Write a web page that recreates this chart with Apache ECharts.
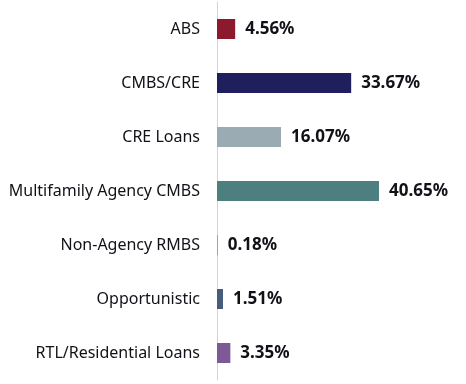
<!DOCTYPE html>
<html>
<head>
<meta charset="utf-8">
<script src="https://cdn.jsdelivr.net/npm/echarts@6/dist/echarts.min.js"></script>
<style>
html,body{margin:0;padding:0;background:#fff;}
#chart{width:466px;height:384px;}
</style>
</head>
<body>
<div id="chart"></div>
<script>
const categories = ["ABS", "CMBS/CRE", "CRE Loans", "Multifamily Agency CMBS", "Non-Agency RMBS", "Opportunistic", "RTL/Residential Loans"];
const values = [4.56, 33.67, 16.07, 40.65, 0.18, 1.51, 3.35];
const colors = ["#8c1a2c", "#1f1f5e", "#9aabb4", "#4e7f80", "#8a8f99", "#475d79", "#7d5a96"];

const chart = echarts.init(document.getElementById('chart'));
chart.setOption({
  animation: false,
  grid: { left: 217, top: 2, width: 199.25, height: 378 },
  xAxis: {
    type: 'value', min: 0, max: 50,
    show: false
  },
  yAxis: {
    type: 'category', data: categories, inverse: true,
    axisLine: { show: true, lineStyle: { color: '#d4d4d4', width: 1 } },
    axisTick: { show: false },
    axisLabel: { margin: 17, fontFamily: 'Noto Sans', fontSize: 16, color: '#111118' }
  },
  series: [{
    type: 'bar',
    barWidth: 20,
    data: values.map((v, i) => ({ value: v, itemStyle: { color: colors[i] } })),
    label: {
      show: true, position: 'right', distance: 10,
      fontFamily: 'Noto Sans', fontWeight: 'bold', fontSize: 17, color: '#111118',
      formatter: p => p.value.toFixed(2) + '%'
    }
  }]
});
</script>
</body>
</html>
